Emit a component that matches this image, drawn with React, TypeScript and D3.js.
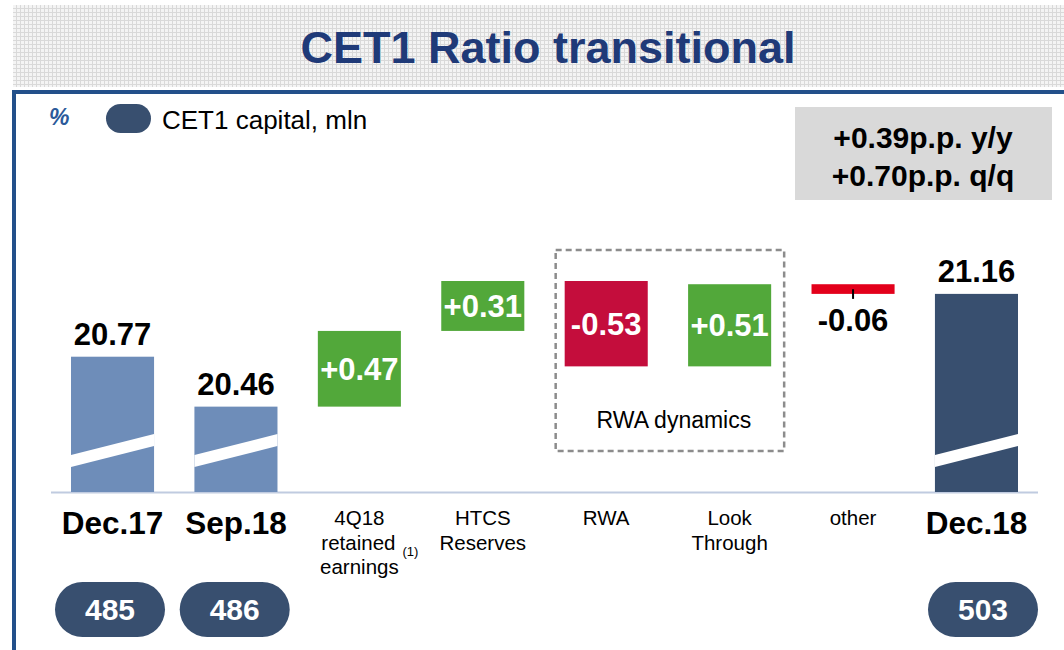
import React from 'react'
import * as d3 from 'd3'

// CET1 ratio (%) — totals and bridge steps
const totalLabels = ['Dec.17', 'Sep.18', 'Dec.18']
const totalValues = [20.77, 20.46, 21.16]
const capitalValues = [485, 486, 503] // CET1 capital, mln
const deltaLabels = ['4Q18 retained earnings', 'HTCS Reserves', 'RWA', 'Look Through', 'other']
const deltaValues = [0.47, 0.31, -0.53, 0.51, -0.06]
const categories = [totalLabels[0], totalLabels[1], ...deltaLabels, totalLabels[2]]
const categoryLines = [['Dec.17'], ['Sep.18'], ['4Q18', 'retained', 'earnings'], ['HTCS', 'Reserves'], ['RWA'], ['Look', 'Through'], ['other'], ['Dec.18']]
const rwaGroup = ['RWA', 'Look Through']
const summaryLines = ['+0.39p.p. y/y', '+0.70p.p. q/q']

const W = 1064
const H = 650
const base = 492
const font = '"Liberation Sans", Arial, sans-serif'

const barColor = {
	'Dec.17': '#6e8db9',
	'Sep.18': '#6e8db9',
	'Dec.18': '#384f6f',
	'4Q18 retained earnings': '#52a83a',
	'HTCS Reserves': '#52a83a',
	'RWA': '#c40d3c',
	'Look Through': '#52a83a',
	'other': '#e3001b',
}

export default function App() {
	const x = d3.scaleBand().domain(categories).range([71, 1018]).paddingInner(0.327).paddingOuter(0)
	// pills sit on a slightly wider band than the bars
	const xp = d3.scaleBand().domain(categories).range([55, 1038]).paddingInner(0.118).paddingOuter(0)
	const y = d3.scaleLinear().domain([19.93, 21.24]).range([base, 281])
	const bw = x.bandwidth()

	// build waterfall from Sep.18
	let run = totalValues[1]
	const steps = deltaValues.map((d, i) => {
		const from = run
		run = +(run + d).toFixed(2)
		return { name: deltaLabels[i], value: d, from, to: run }
	})

	const breakMark = (x0) => {
		const x1 = x0 + bw
		return `${x0},${base - 37} ${x1},${base - 58} ${x1},${base - 46} ${x0},${base - 25}`
	}

	const rx0 = x(rwaGroup[0]) - 9
	const rx1 = x(rwaGroup[1]) + bw + 13

	return (
		<div style={{ position: 'absolute', left: 0, top: 0 }}>
			<svg width={W} height={H} style={{ display: 'block', fontFamily: font }}>
				<defs>
					<pattern id="hdr" width="4" height="4" patternUnits="userSpaceOnUse">
						<rect width="4" height="4" fill="#f4f4f4" />
						<rect width="1" height="4" fill="#d9d9d9" />
						<rect width="4" height="1" fill="#d9d9d9" />
					</pattern>
				</defs>
				<rect width={W} height={H} fill="#fff" />
				<rect x={13} y={5} width={W - 13} height={82} fill="url(#hdr)" />
				<text x={548} y={63} textAnchor="middle" fontSize={45} fontWeight="bold" fill="#1f3a78">CET1 Ratio transitional</text>

				{/* frame */}
				<rect x={12} y={90} width={W - 12} height={4} fill="#23508a" />
				<rect x={12} y={90} width={4} height={H - 90} fill="#23508a" />

				{/* legend */}
				<text x={49} y={125} fontSize={23} fontWeight="bold" fontStyle="italic" fill="#2b5a9a">%</text>
				<rect x={106} y={104} width={45} height={29} rx={14.5} fill="#384f6f" />
				<text x={162} y={129} fontSize={26} fill="#000">CET1 capital, mln</text>

				{/* summary box */}
				<rect x={795} y={107} width={257} height={93} fill="#d9d9d9" />
				{summaryLines.map((s, i) => (
					<text key={s} x={923} y={148 + i * 38} textAnchor="middle" fontSize={30} fontWeight="bold" fill="#000">{s}</text>
				))}

				{/* RWA dynamics box */}
				<rect x={rx0} y={y(21.24) - 31} width={rx1 - rx0} height={451 - (y(21.24) - 31)} fill="none" stroke="#8c8c8c" strokeWidth={2.5} strokeDasharray="6,4" />
				<text x={(rx0 + rx1) / 2 + 4} y={428} textAnchor="middle" fontSize={23} fill="#000">RWA dynamics</text>

				{/* axis line */}
				<line x1={51} x2={1038} y1={base + 0.5} y2={base + 0.5} stroke="#c0cbe0" strokeWidth={2} />

				{/* totals */}
				{totalLabels.map((name, i) => {
					const bx = x(name)
					const top = y(totalValues[i])
					return (
						<g key={name}>
							<rect x={bx} y={top} width={bw} height={base - top} fill={barColor[name]} />
							<polygon points={breakMark(bx)} fill="#fff" />
							<text x={bx + bw / 2} y={top - 12} textAnchor="middle" fontSize={31} fontWeight="bold" fill="#000">{totalValues[i].toFixed(2)}</text>
						</g>
					)
				})}

				{/* bridge steps */}
				{steps.map((s) => {
					const bx = x(s.name)
					const y0 = y(Math.max(s.from, s.to))
					const y1 = y(Math.min(s.from, s.to))
					const h = y1 - y0
					const label = (s.value > 0 ? '+' : '') + s.value.toFixed(2)
					const inside = h > 40
					return (
						<g key={s.name}>
							<rect x={bx} y={y0} width={bw} height={h} fill={barColor[s.name]} />
							{inside ? (
								<text x={bx + bw / 2} y={(y0 + y1) / 2 + 11} textAnchor="middle" fontSize={31} fontWeight="bold" fill="#fff">{label}</text>
							) : (
								<>
									<line x1={bx + bw / 2} x2={bx + bw / 2} y1={y0 + 5} y2={y1 + 5} stroke="#000" strokeWidth={2} />
									<text x={bx + bw / 2} y={y1 + 37} textAnchor="middle" fontSize={31} fontWeight="bold" fill="#000">{label}</text>
								</>
							)}
						</g>
					)
				})}

				{/* category labels */}
				{categories.map((c, i) => {
					const cx = x(c) + bw / 2
					const isTotal = totalLabels.includes(c)
					if (isTotal) {
						return <text key={c} x={cx} y={534} textAnchor="middle" fontSize={31.5} fontWeight="bold" fill="#000">{c}</text>
					}
					return (
						<g key={c}>
							{categoryLines[i].map((l, j) => {
								// footnote marker after "retained"
								if (c === deltaLabels[0] && j === 1) {
									return (
										<text key={l} x={cx - 38} y={525 + j * 24.5} fontSize={20.5} fill="#000">
											{l}
											<tspan dx={7} dy={6} fontSize={13}>(1)</tspan>
										</text>
									)
								}
								return <text key={l} x={cx} y={525 + j * 24.5} textAnchor="middle" fontSize={20.5} fill="#000">{l}</text>
							})}
						</g>
					)
				})}

				{/* capital pills */}
				{totalLabels.map((name, i) => {
					const px = xp(name)
					const pw = xp.bandwidth()
					return (
						<g key={name + '-cap'}>
							<rect x={px} y={582} width={pw} height={55} rx={27.5} fill="#384f6f" />
							<text x={px + pw / 2} y={620} textAnchor="middle" fontSize={30} fontWeight="bold" fill="#fff">{capitalValues[i]}</text>
						</g>
					)
				})}
			</svg>
		</div>
	)
}
